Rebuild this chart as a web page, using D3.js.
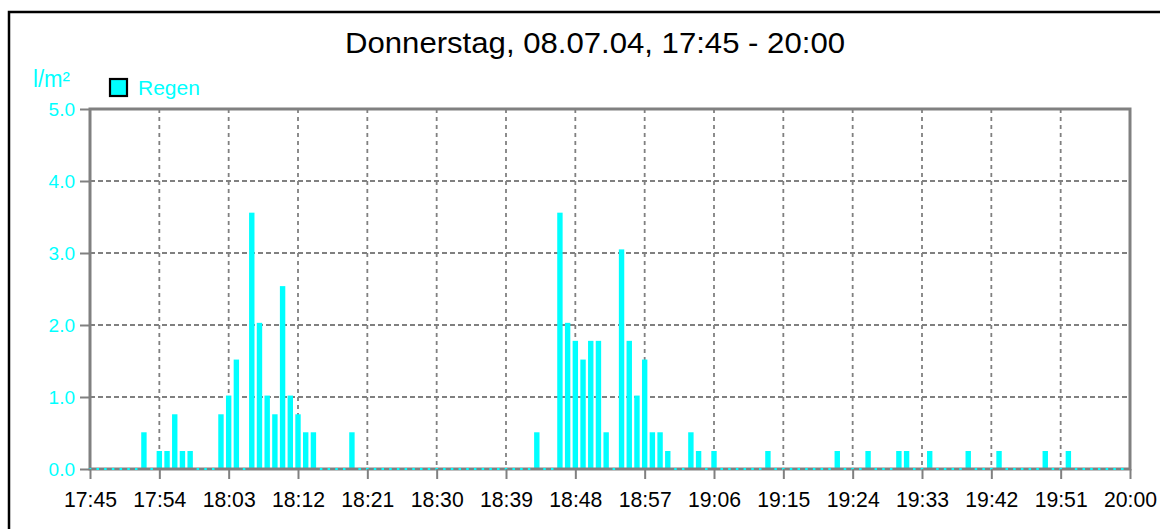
<!DOCTYPE html>
<html>
<head>
<meta charset="utf-8">
<script src="https://cdn.jsdelivr.net/npm/d3@7"></script>
<style>
  html, body { margin: 0; padding: 0; background: #ffffff; }
  svg { display: block; font-family: "Liberation Sans", Arial, sans-serif; }
</style>
</head>
<body>
<script>
// ---- data ----
const titleText = "Donnerstag, 08.07.04, 17:45 - 20:00";
const seriesName = "Regen";
const unitLabel = "l/m\u00B2";
const startTime = "17:45";
// one reading per minute, 17:45 ... 19:59 (l/m²)
const rain = [
  0,0,0,0,0,0,0,0.51,0,0.25,0.25,0.76,0.25,0.25,0,
  0,0,0.76,1.02,1.52,0,3.56,2.03,1.02,0.76,2.54,1.02,0.76,0.51,0.51,
  0,0,0,0,0.51,0,0,0,0,0,0,0,0,0,0,
  0,0,0,0,0,0,0,0,0,0,0,0,0,0.51,0,
  0,3.56,2.03,1.78,1.52,1.78,1.78,0.51,0,3.05,1.78,1.02,1.52,0.51,0.51,
  0.25,0,0,0.51,0.25,0,0.25,0,0,0,0,0,0,0.25,0,
  0,0,0,0,0,0,0,0.25,0,0,0,0.25,0,0,0,
  0.25,0.25,0,0,0.25,0,0,0,0,0.25,0,0,0,0.25,0,
  0,0,0,0,0.25,0,0,0.25,0,0,0,0,0,0,0
];
const xTickLabels = ["17:45","17:54","18:03","18:12","18:21","18:30","18:39","18:48",
                     "18:57","19:06","19:15","19:24","19:33","19:42","19:51","20:00"];
const yTicks = [0, 1, 2, 3, 4, 5];

// ---- helpers ----
const toMin = s => { const [h, m] = s.split(":").map(Number); return h * 60 + m; };
const t0 = toMin(startTime);
const xTickMinutes = xTickLabels.map(s => toMin(s) - t0);

const W = 1160, H = 529;
const L = 90, R = 1130, T = 109, B = 469;
const CYAN = "#00ffff", GREY = "#808080";

const svg = d3.select("body").append("svg").attr("width", W).attr("height", H);

const x = d3.scaleLinear().domain([0, xTickMinutes[xTickMinutes.length - 1]]).range([L, R]);
const y = d3.scaleLinear().domain([0, 5]).range([B, T]);

// outer black frame
svg.append("path").attr("d", `M9,${H}V12H${W}`).attr("fill", "none")
   .attr("stroke", "#000").attr("stroke-width", 2.5);

// title
svg.append("text").attr("x", 595).attr("y", 53).attr("text-anchor", "middle")
   .attr("font-size", 30).attr("fill", "#000")
   .attr("textLength", 500).attr("lengthAdjust", "spacingAndGlyphs").text(titleText);

// unit label
svg.append("text").attr("x", 33).attr("y", 87).attr("font-size", 23)
   .attr("fill", CYAN).attr("textLength", 37).attr("lengthAdjust", "spacingAndGlyphs")
   .text(unitLabel);

// legend
svg.append("rect").attr("x", 110).attr("y", 79).attr("width", 17).attr("height", 17)
   .attr("fill", CYAN).attr("stroke", "#000").attr("stroke-width", 2.2);
svg.append("text").attr("x", 138).attr("y", 95).attr("font-size", 21)
   .attr("fill", CYAN).text(seriesName);

// gridlines
const grid = svg.append("g");
grid.selectAll("line.v").data(xTickMinutes.slice(1, -1)).join("line")
  .attr("x1", d => x(d)).attr("x2", d => x(d)).attr("y1", T).attr("y2", B)
  .attr("stroke", GREY).attr("stroke-width", 1.8).attr("stroke-dasharray", "4,4");
grid.selectAll("line.h").data(yTicks.slice(1, -1)).join("line")
  .attr("x1", L).attr("x2", R).attr("y1", d => y(d)).attr("y2", d => y(d))
  .attr("stroke", GREY).attr("stroke-width", 1.8).attr("stroke-dasharray", "5,3");

// bars
const readings = rain.map((v, i) => ({ i, v }));
svg.append("g").selectAll("rect").data(readings.filter(d => d.v > 0)).join("rect")
  .attr("x", d => x(d.i) - 2.7).attr("width", 5.4)
  .attr("y", d => y(d.v)).attr("height", d => y(0) - y(d.v))
  .attr("fill", CYAN);

// plot frame
svg.append("rect").attr("x", L).attr("y", T).attr("width", R - L).attr("height", B - T)
   .attr("fill", "none").attr("stroke", GREY).attr("stroke-width", 3);

// zero readings drawn as dots on the baseline
svg.append("g").selectAll("rect").data(readings.filter(d => d.v === 0)).join("rect")
  .attr("x", d => x(d.i) - 1.25).attr("width", 2.5)
  .attr("y", B - 1).attr("height", 2).attr("fill", CYAN);

// x axis
const xAxis = svg.append("g").attr("transform", `translate(0,${B})`)
  .call(d3.axisBottom(x).tickValues(xTickMinutes)
        .tickFormat((d, i) => xTickLabels[i]).tickSize(10).tickPadding(12));
xAxis.select(".domain").remove();
xAxis.selectAll(".tick line").attr("stroke", GREY).attr("stroke-width", 2);
xAxis.selectAll(".tick text").attr("font-size", 22).attr("fill", "#000")
  .attr("font-family", "Liberation Sans, Arial, sans-serif")
  .attr("textLength", 53).attr("lengthAdjust", "spacingAndGlyphs");

// y axis
const yAxis = svg.append("g").attr("transform", `translate(${L},0)`)
  .call(d3.axisLeft(y).tickValues(yTicks).tickFormat(d3.format(".1f"))
        .tickSize(10).tickPadding(5));
yAxis.select(".domain").remove();
yAxis.selectAll(".tick line").attr("stroke", GREY).attr("stroke-width", 2);
yAxis.selectAll(".tick text").attr("font-size", 19).attr("fill", CYAN)
  .attr("font-family", "Liberation Sans, Arial, sans-serif");
</script>
</body>
</html>
